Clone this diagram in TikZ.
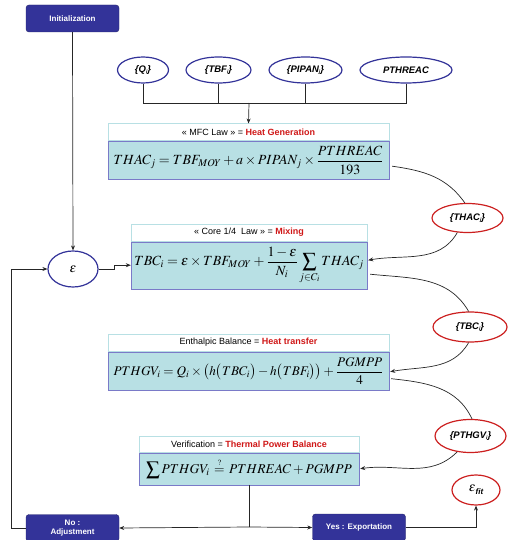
\documentclass[tikz,border=0pt]{standalone}
\usepackage{mathptmx}
\usepackage[no-math]{fontspec}
\setmainfont{Liberation Sans}
\setsansfont{Liberation Sans}
\usetikzlibrary{positioning,arrows.meta,shapes.geometric}
\definecolor{darkblue}{HTML}{333399}
\definecolor{lawcyan}{HTML}{B8E0E4}
\definecolor{lawedge}{HTML}{7A7AC8}
\definecolor{ellred}{HTML}{CC1F1F}
\definecolor{titlered}{HTML}{D01818}
\newcommand{\lawfont}{\fontsize{14}{16}\selectfont}

\begin{document}
\begin{tikzpicture}[x=1pt,y=1pt,
    bluebox/.style={draw=darkblue!70!black, fill=darkblue, rounded corners=3pt, text=white,
      font=\sffamily\bfseries\fontsize{8}{9.5}\selectfont, minimum width=93, minimum height=27,
      align=center, inner sep=1pt},
    inell/.style={ellipse, draw=darkblue, line width=1.2pt, fill=white, inner sep=0pt,
      font=\sffamily\bfseries\itshape\fontsize{9.5}{10}\selectfont},
    outell/.style={inell, draw=ellred},
    lawtitle/.style={draw=lawcyan, line width=1pt, fill=white, minimum height=17, inner sep=0pt,
      font=\sffamily\fontsize{9}{10}\selectfont},
    lawbody/.style={draw=lawedge, fill=lawcyan, inner sep=0pt, font=\lawfont},
    link/.style={draw=black!85, line width=0.7pt},
    flow/.style={link, -{Stealth[length=5pt,width=4pt]}}
  ]
  \useasboundingbox (0,0) rectangle (507,-540);

  % start
  \node[bluebox] (init) at (72.5,-18.5) {Initialization};

  % inputs of the MFC law
  \node[inell, minimum width=51, minimum height=26] (q) at (143,-70) {\{Q\raisebox{-1.5pt}{\tiny i}\}};
  \node[inell, minimum width=65, minimum height=26] (tbf) at (218.5,-70) {\{TBF\raisebox{-1.5pt}{\tiny i}\}};
  \node[inell, minimum width=73, minimum height=26] (pipan) at (305.5,-70) {\{PIPAN\raisebox{-1.5pt}{\tiny j}\}};
  \node[inell, minimum width=92, minimum height=26] (pthreac) at (406,-70) {PTHREAC};
  \coordinate (bus) at (249,-103);

  % MFC law
  \node[lawtitle, minimum width=281] (mfctitle) at (248.5,-132.5)
    {« MFC Law » = \textcolor{titlered}{\bfseries Heat Generation}};
  \node[lawbody, minimum width=281, minimum height=37, below=0pt of mfctitle] (mfcbody)
    {$\displaystyle THAC_j = TBF_{MOY} + a\times PIPAN_j\times\frac{PTHREAC}{193}$};

  % mixing
  \node[inell, minimum width=50, minimum height=36, font=\fontsize{13}{14}\selectfont] (eps) at (73,-269) {$\varepsilon$};
  \node[lawtitle, minimum width=236] (coretitle) at (249,-232.5)
    {« Core 1/4~~Law » = \textcolor{titlered}{\bfseries Mixing}};
  \node[lawbody, minimum width=236, minimum height=47, below=0pt of coretitle] (corebody)
    {$\displaystyle TBC_i = \varepsilon\times TBF_{MOY} + \frac{1-\varepsilon}{N_i}\sum_{j\in C_i} THAC_j$};
  \node[outell, minimum width=71, minimum height=29] (thac) at (467.5,-218) {\{THAC\raisebox{-1.5pt}{\tiny j}\}};

  % enthalpic balance
  \node[lawtitle, minimum width=281] (enthtitle) at (248.5,-342.5)
    {Enthalpic Balance = \textcolor{titlered}{\bfseries Heat transfer}};
  \node[lawbody, minimum width=281, minimum height=38, below=0pt of enthtitle, font=\fontsize{13.2}{15}\selectfont] (enthbody)
    {$\displaystyle PTHGV_i = Q_i\times\bigl(h\bigl(TBC_i\bigr)-h\bigl(TBF_i\bigr)\bigr)+\frac{PGMPP}{4}$};
  \node[outell, minimum width=74, minimum height=30] (tbc) at (470,-327) {\{TBC\raisebox{-1.5pt}{\tiny i}\}};

  % verification
  \node[lawtitle, minimum width=220, minimum height=16] (veriftitle) at (249,-444)
    {Verification = \textcolor{titlered}{\bfseries Thermal Power Balance}};
  \node[lawbody, minimum width=220, minimum height=32, below=0pt of veriftitle, font=\fontsize{13.5}{15}\selectfont] (verifbody)
    {$\displaystyle \sum PTHGV_i\,\stackrel{\scriptscriptstyle ?}{=}\, PTHREAC + PGMPP$};
  \node[outell, minimum width=71, minimum height=33] (pthgv) at (470.5,-436) {\{PTHGV\raisebox{-1.5pt}{\tiny i}\}};

  % decision
  \coordinate (split) at (249,-527);
  \node[bluebox] (no) at (72.5,-528) {No :\\Adjustment};
  \node[bluebox] (yes) at (359,-527.5) {Yes : Exportation};
  \node[outell, minimum width=48, minimum height=30, font=\fontsize{13}{14}\selectfont] (fit) at (476,-490)
    {$\varepsilon$\raisebox{-3pt}{\sffamily\bfseries\itshape\fontsize{8}{9}\selectfont fit}};

  % connectors
  \draw[flow] (init.south) -- (eps.north);
  \draw[link] (q.south) |- (bus);
  \draw[link] (tbf.south) -- (tbf.south |- bus);
  \draw[link] (pipan.south) -- (pipan.south |- bus);
  \draw[link] (pthreac.south) |- (bus);
  \draw[flow] (bus) -- (mfctitle.north);

  \draw[link] ([xshift=3pt,yshift=-6pt]mfcbody.east) to[out=-8,in=125] (thac.100);
  \draw[flow] (thac.235) to[out=-120,in=10] ([xshift=1pt,yshift=5pt]corebody.east);
  \draw[flow] (eps.east) -- ++(16,0) |- (corebody.west);

  \draw[link] ([xshift=3pt,yshift=-9pt]corebody.east) to[out=-6,in=120] (tbc.95);
  \draw[flow] (tbc.265) to[out=-120,in=10] ([xshift=1pt,yshift=-1pt]enthbody.east);

  \draw[link] ([xshift=2pt,yshift=-8pt]enthbody.east) to[out=-6,in=115] (pthgv.85);
  \draw[flow] (pthgv.230) to[out=-135,in=8] ([xshift=1pt]verifbody.east);

  \draw[link] (verifbody.south) -- (split);
  \draw[flow] (split) -- (no.east);
  \draw[flow] (split) -- (yes.west);
  \draw[flow] (yes.east) -| (fit.south);
  \draw[flow] (no.west) -- ++(-14,0) |- (eps.west);
\end{tikzpicture}
\end{document}
